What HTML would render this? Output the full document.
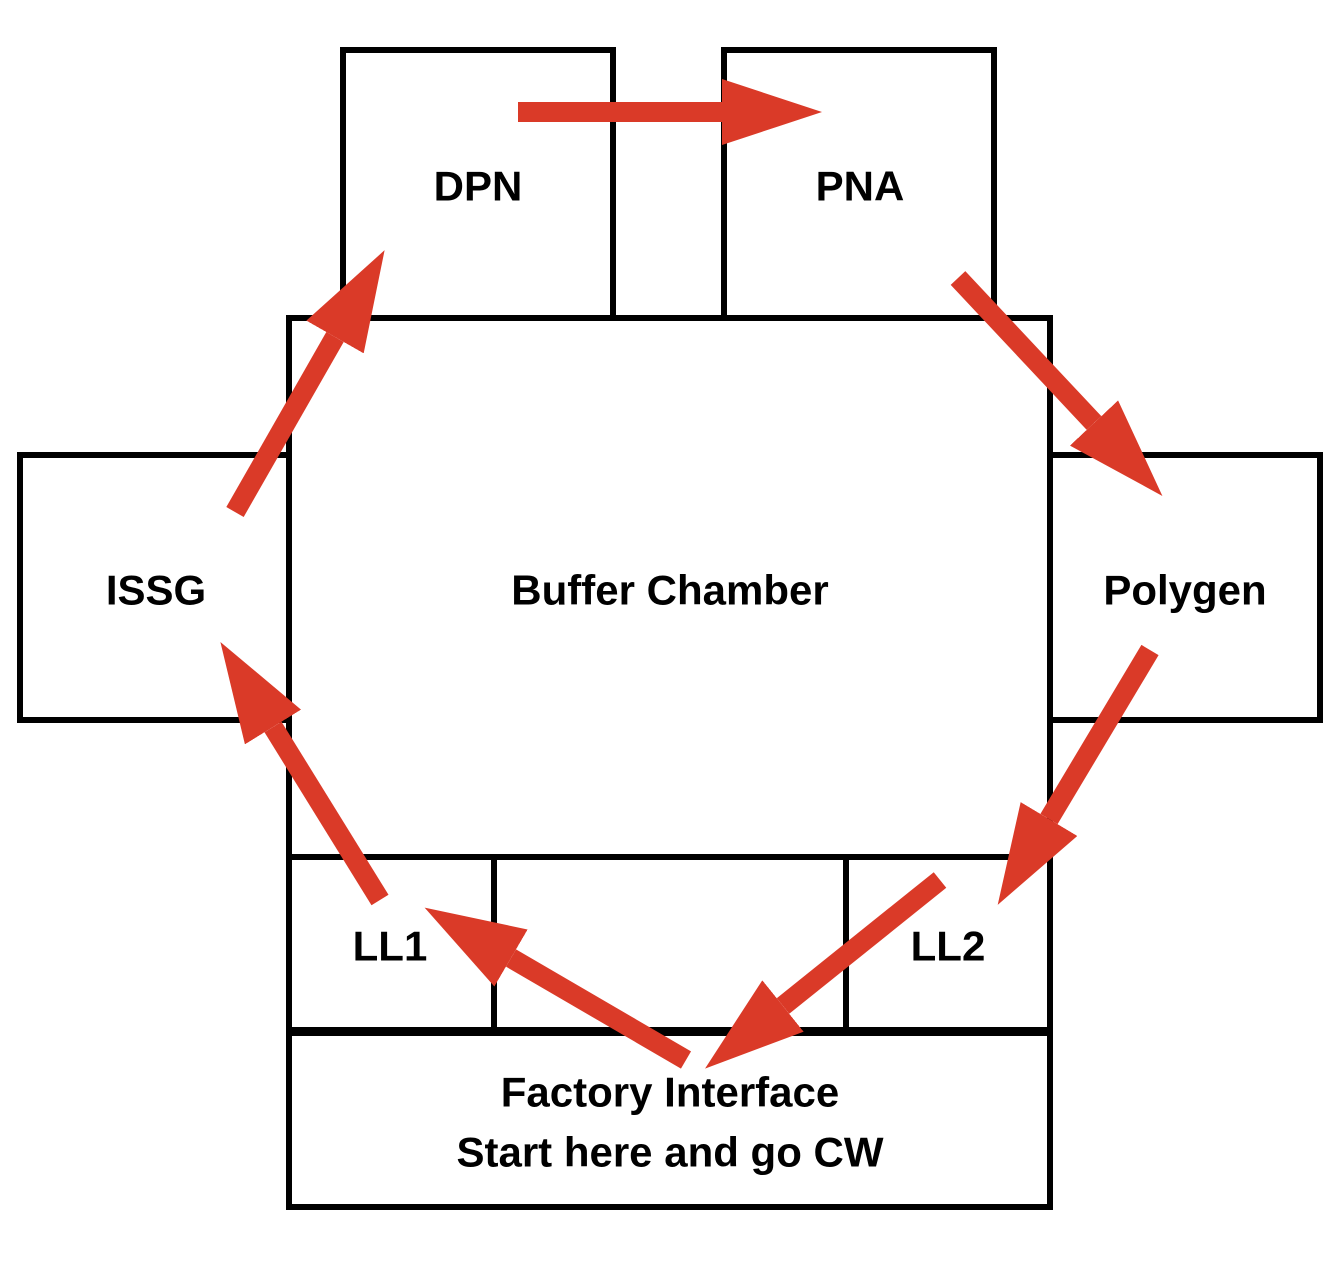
<!DOCTYPE html>
<html><head><meta charset="utf-8"><style>
html,body{margin:0;padding:0;background:#fff}
svg{display:block}
text{font-family:"Liberation Sans",Arial,sans-serif;font-weight:bold;font-size:42px;fill:#000;text-anchor:middle;dominant-baseline:central}
</style></head><body>
<svg width="1338" height="1274" viewBox="0 0 1338 1274" xmlns="http://www.w3.org/2000/svg">
<defs>
<marker id="h" markerUnits="userSpaceOnUse" viewBox="0 0 100 66" markerWidth="100" markerHeight="66" refX="0" refY="33" orient="auto">
<polygon points="0,0 100,33 0,66" fill="#da3a28"/>
</marker>
</defs>
<g fill="none" stroke="#000" stroke-width="6">
<rect x="343" y="50" width="270" height="268"/>
<rect x="724" y="50" width="270" height="268"/>
<rect x="289" y="318" width="761" height="539"/>
<rect x="20" y="455" width="269" height="265"/>
<rect x="1050" y="455" width="270" height="265"/>
<rect x="289" y="857" width="205" height="173"/>
<rect x="494" y="857" width="352" height="173"/>
<rect x="846" y="857" width="204" height="173"/>
<rect x="289" y="1033" width="761" height="174"/>
</g>
<text x="478" y="186">DPN</text>
<text x="860" y="186">PNA</text>
<text x="156" y="590">ISSG</text>
<text x="670" y="590">Buffer Chamber</text>
<text x="1185" y="590">Polygen</text>
<text x="390" y="946">LL1</text>
<text x="948" y="946">LL2</text>
<text x="670" y="1092">Factory Interface</text>
<text x="670" y="1152">Start here and go CW</text>
<g stroke="#da3a28" stroke-width="20" marker-end="url(#h)">
<line x1="518" y1="112" x2="722" y2="112"/>
<line x1="958" y1="278" x2="1094" y2="423"/>
<line x1="1150" y1="650" x2="1049" y2="819"/>
<line x1="940" y1="880" x2="783" y2="1006"/>
<line x1="686" y1="1060" x2="511" y2="958"/>
<line x1="380" y1="900" x2="273" y2="727"/>
<line x1="235" y1="512" x2="335" y2="337"/>
</g>
</svg>
</body></html>
